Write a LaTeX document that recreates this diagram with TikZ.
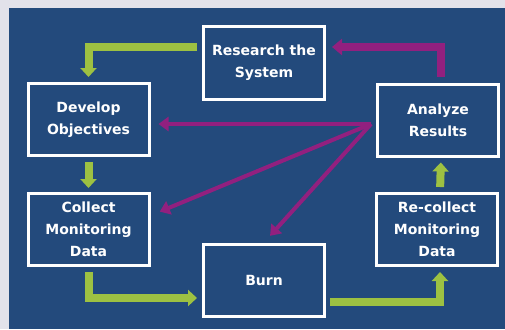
\documentclass[tikz,border=0pt]{standalone}
\usepackage{fontspec}
\setmainfont{DejaVu Sans}
\usetikzlibrary{arrows.meta,positioning,calc}
\definecolor{burnbg}{RGB}{226,226,234}
\definecolor{burnblue}{RGB}{35,74,124}
\definecolor{burngreen}{RGB}{157,193,66}
\definecolor{burnpurple}{RGB}{146,32,127}

\begin{document}
\begin{tikzpicture}[x=1pt,y=-1pt,
  stepbox/.style={draw=white, line width=3pt, fill=burnblue, minimum width=121pt,
    minimum height=72pt, align=center, text=white,
    font=\fontsize{14}{22}\selectfont\bfseries},
  greenarrow/.style={draw=burngreen, line width=8pt,
    -{Triangle[width=16pt,length=9pt]}},
  purplearrow/.style={draw=burnpurple, line width=4pt,
    -{Triangle[width=14pt,length=10pt]}}]
  \useasboundingbox (0,0) rectangle (505,329);
  \fill[burnbg] (0,0) rectangle (505,329);
  \fill[burnblue] (9,8) rectangle (505,329);

  \node[stepbox] (research) at (264,63) {Research the\\System};
  \node[stepbox] (develop) at (88.5,119.5) {Develop\\Objectives};
  \node[stepbox] (analyze) at (438,120) {Analyze\\Results};
  \node[stepbox] (collect) at (88.5,229.5) {Collect\\Monitoring\\Data};
  \node[stepbox] (recollect) at (437,229.5) {Re-collect\\Monitoring\\Data};
  \node[stepbox] (burn) at (264,280) {Burn};

  \draw[greenarrow, shorten <=5pt, shorten >=5pt]
    ([yshift=16pt]research.west) -| (develop.north);
  \draw[greenarrow, shorten <=5pt, shorten >=4pt] (develop.south) -- (collect.north);
  \draw[greenarrow, shorten <=5pt, shorten >=5pt]
    (collect.south) |- ([yshift=-18pt]burn.west);
  \draw[greenarrow, shorten <=4pt, shorten >=5pt]
    ([yshift=-22pt]burn.east) -| ([xshift=3pt]recollect.south);
  \draw[greenarrow, shorten <=5pt, shorten >=5pt]
    ([xshift=3pt]recollect.north) -- ([xshift=3pt]analyze.south);

  \draw[purplearrow, line width=8pt, -{Triangle[width=16pt,length=10pt]},
    shorten <=6pt, shorten >=6pt]
    ([xshift=3pt]analyze.north) |- ([yshift=16pt]research.east);
  \coordinate (hub) at ([xshift=-5pt,yshift=-4pt]analyze.west);
  \draw[purplearrow, shorten >=8pt] (hub) -- (hub -| develop.east);
  \draw[purplearrow, shorten >=10pt] (hub) -- ([yshift=14pt]collect.east);
  \draw[purplearrow, shorten >=9pt] (hub) -- (burn.north);
\end{tikzpicture}
\end{document}
